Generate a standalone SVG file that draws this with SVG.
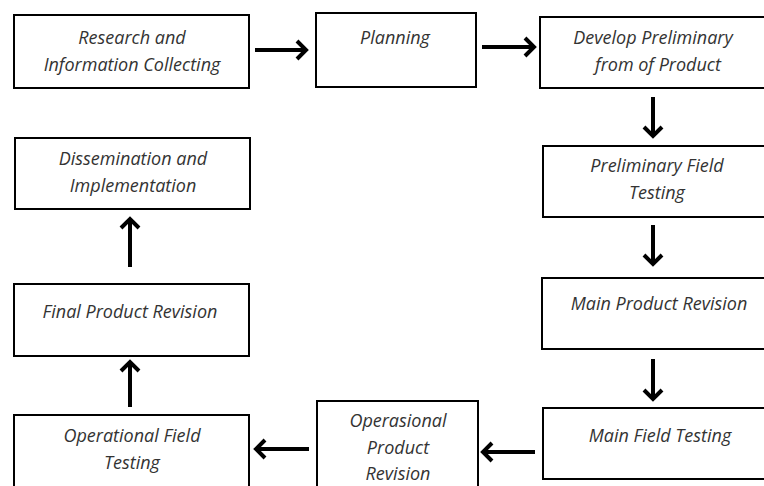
<svg xmlns="http://www.w3.org/2000/svg" width="764" height="486" viewBox="0 0 764 486">
  <style>
    .box { fill: #ffffff; stroke: #000000; stroke-width: 2; }
    .lbl { font-family: "Open Sans", "Liberation Sans", sans-serif; font-style: italic; font-size: 18px; fill: #333333; text-anchor: middle; }
    .arr { stroke: #000000; stroke-width: 4; fill: none; marker-end: url(#chev); }
  </style>
  <defs>
    <marker id="chev" markerUnits="userSpaceOnUse" viewBox="-15 -15 30 30" markerWidth="30" markerHeight="30" refX="0" refY="0" orient="auto">
      <path d="M-9,-9 L0,0 L-9,9" fill="none" stroke="#000000" stroke-width="4" stroke-linecap="butt"/>
    </marker>
  </defs>
  <rect x="0" y="0" width="764" height="486" fill="#ffffff"/>

  <g id="n1">
    <rect class="box" x="14" y="15" width="235" height="73"/>
    <text class="lbl" x="132" y="44">Research and</text>
    <text class="lbl" x="132" y="71">Information Collecting</text>
  </g>
  <g id="n2">
    <rect class="box" x="316" y="13" width="160" height="74"/>
    <text class="lbl" x="395" y="44">Planning</text>
  </g>
  <g id="n3">
    <rect class="box" x="540" y="17" width="232" height="71"/>
    <text class="lbl" x="653" y="44">Develop Preliminary</text>
    <text class="lbl" x="658" y="71">from of Product</text>
  </g>
  <g id="n4">
    <rect class="box" x="543" y="146" width="229" height="71"/>
    <text class="lbl" x="657" y="172">Preliminary Field</text>
    <text class="lbl" x="657" y="199">Testing</text>
  </g>
  <g id="n5">
    <rect class="box" x="542" y="278" width="230" height="71"/>
    <text class="lbl" x="659" y="310">Main Product Revision</text>
  </g>
  <g id="n6">
    <rect class="box" x="543" y="408" width="229" height="71"/>
    <text class="lbl" x="660" y="442">Main Field Testing</text>
  </g>
  <g id="n7">
    <rect class="box" x="317" y="401" width="161" height="95"/>
    <text class="lbl" x="398" y="427">Operasional</text>
    <text class="lbl" x="398" y="454">Product</text>
    <text class="lbl" x="398" y="480">Revision</text>
  </g>
  <g id="n8">
    <rect class="box" x="14" y="415" width="235" height="80"/>
    <text class="lbl" x="132" y="442">Operational Field</text>
    <text class="lbl" x="132" y="469">Testing</text>
  </g>
  <g id="n9">
    <rect class="box" x="14" y="284" width="235" height="72"/>
    <text class="lbl" x="130" y="318">Final Product Revision</text>
  </g>
  <g id="n10">
    <rect class="box" x="15" y="138" width="235" height="71"/>
    <text class="lbl" x="133" y="165">Dissemination and</text>
    <text class="lbl" x="133" y="192">Implementation</text>
  </g>

  <g id="connectors">
    <line class="arr" x1="255" y1="50" x2="306" y2="50"/>
    <line class="arr" x1="482" y1="47" x2="534" y2="47"/>
    <line class="arr" x1="653" y1="97" x2="653" y2="136"/>
    <line class="arr" x1="653" y1="225" x2="653" y2="264"/>
    <line class="arr" x1="653" y1="359" x2="653" y2="399"/>
    <line class="arr" x1="535" y1="452" x2="483" y2="452"/>
    <line class="arr" x1="309" y1="449" x2="256" y2="449"/>
    <line class="arr" x1="130" y1="407" x2="130" y2="362"/>
    <line class="arr" x1="130" y1="267" x2="130" y2="219"/>
  </g>
</svg>
